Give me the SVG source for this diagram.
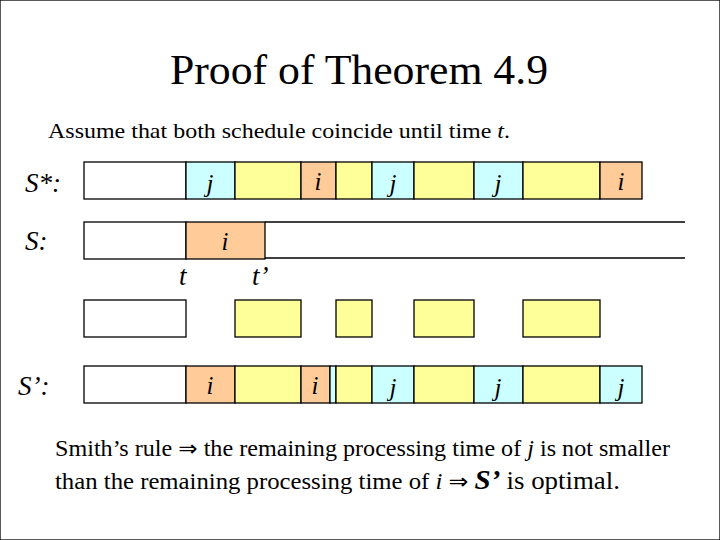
<svg xmlns="http://www.w3.org/2000/svg" width="720" height="540" viewBox="0 0 720 540">
<style>
text{font-family:"Liberation Serif","Times New Roman",serif;fill:#000}
.title{font-size:42px}
.sub{font-size:22px}
.lbl{font-size:27px;font-style:italic}
.cl{font-size:25px;font-style:italic;text-anchor:middle}
.body{font-size:23px}
.it{font-style:italic}
.ar{font-family:"DejaVu Sans",sans-serif;font-size:22px}
rect{stroke:#000;stroke-width:1.3}
.w{fill:#fff}
.c{fill:#ccffff}
.y{fill:#ffff99}
.o{fill:#ffcc99}
line{stroke:#000;stroke-width:1.3}
</style>
<rect x="0" y="0" width="720" height="540" fill="#fff" stroke="none"/>
<text class="title" x="359" y="84" text-anchor="middle" textLength="378" lengthAdjust="spacingAndGlyphs">Proof of Theorem 4.9</text>
<text class="sub" x="48" y="138" textLength="462" lengthAdjust="spacingAndGlyphs">Assume that both schedule coincide until time <tspan class="it">t</tspan>.</text>

<g id="row-sstar">
<text class="lbl" x="25" y="192">S*:</text>
<g id="ss1"><rect class="w" x="84" y="162" width="102" height="37"/></g>
<g id="ss2"><rect class="c" x="186" y="162" width="49" height="37"/><text class="cl" x="210" y="192">j</text></g>
<g id="ss3"><rect class="y" x="235" y="162" width="66" height="37"/></g>
<g id="ss4"><rect class="o" x="301" y="162" width="35" height="37"/><text class="cl" x="318" y="190">i</text></g>
<g id="ss5"><rect class="y" x="336" y="162" width="36" height="37"/></g>
<g id="ss6"><rect class="c" x="372" y="162" width="42" height="37"/><text class="cl" x="393" y="192">j</text></g>
<g id="ss7"><rect class="y" x="414" y="162" width="60" height="37"/></g>
<g id="ss8"><rect class="c" x="474" y="162" width="49" height="37"/><text class="cl" x="498" y="192">j</text></g>
<g id="ss9"><rect class="y" x="523" y="162" width="77" height="37"/></g>
<g id="ss10"><rect class="o" x="600" y="162" width="42" height="37"/><text class="cl" x="621" y="190">i</text></g>
</g>

<g id="row-s">
<text class="lbl" x="25" y="250">S:</text>
<g id="s1"><rect class="w" x="84" y="222" width="102" height="37"/></g>
<g id="s2"><rect class="o" x="186" y="222" width="79" height="37"/><text class="cl" x="225" y="250">i</text></g>
<line x1="265" y1="222" x2="685" y2="222"/>
<line x1="265" y1="258" x2="685" y2="258"/>
</g>

<g id="times">
<text class="lbl" x="179" y="285">t</text>
<text class="lbl" x="252" y="285">t’</text>
</g>

<g id="row-blocks">
<g id="b1"><rect class="w" x="84" y="300" width="102" height="37"/></g>
<g id="b2"><rect class="y" x="235" y="300" width="66" height="37"/></g>
<g id="b3"><rect class="y" x="336" y="300" width="36" height="37"/></g>
<g id="b4"><rect class="y" x="414" y="300" width="60" height="37"/></g>
<g id="b5"><rect class="y" x="523" y="300" width="77" height="37"/></g>
</g>

<g id="row-sprime">
<text class="lbl" x="18" y="395">S’:</text>
<g id="sp1"><rect class="w" x="84" y="366" width="102" height="37"/></g>
<g id="sp2"><rect class="o" x="186" y="366" width="49" height="37"/><text class="cl" x="210" y="394">i</text></g>
<g id="sp3"><rect class="y" x="235" y="366" width="66" height="37"/></g>
<g id="sp4"><rect class="o" x="301" y="366" width="29" height="37"/><text class="cl" x="315" y="394">i</text></g>
<g id="sp5"><rect class="c" x="330" y="366" width="6" height="37"/></g>
<g id="sp6"><rect class="y" x="336" y="366" width="36" height="37"/></g>
<g id="sp7"><rect class="c" x="372" y="366" width="42" height="37"/><text class="cl" x="393" y="396">j</text></g>
<g id="sp8"><rect class="y" x="414" y="366" width="60" height="37"/></g>
<g id="sp9"><rect class="c" x="474" y="366" width="49" height="37"/><text class="cl" x="498" y="396">j</text></g>
<g id="sp10"><rect class="y" x="523" y="366" width="77" height="37"/></g>
<g id="sp11"><rect class="c" x="600" y="366" width="42" height="37"/><text class="cl" x="621" y="396">j</text></g>
</g>

<g id="connectors"></g>

<text class="body" x="55" y="456" textLength="615" lengthAdjust="spacingAndGlyphs">Smith’s rule <tspan class="ar">⇒</tspan> the remaining processing time of <tspan class="it">j</tspan> is not smaller</text>
<text class="body" x="55" y="489" textLength="565" lengthAdjust="spacingAndGlyphs">than the remaining processing time of <tspan class="it">i</tspan> <tspan class="ar">⇒</tspan> <tspan font-style="italic" font-weight="bold" font-size="27">S’</tspan> <tspan font-size="25">is optimal.</tspan></text>
</svg>
